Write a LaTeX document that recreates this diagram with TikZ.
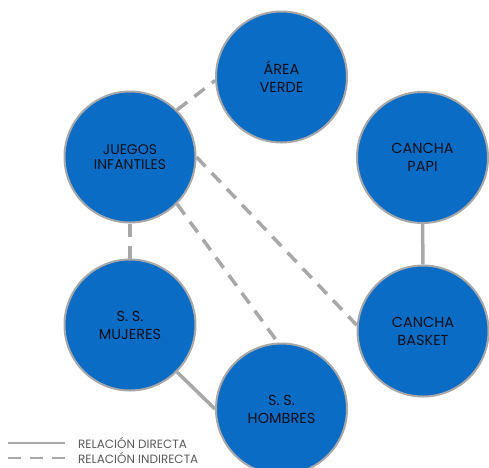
\documentclass[tikz,border=0pt]{standalone}
\usepackage{fontspec}
\setmainfont{Poppins}
\definecolor{cblue}{RGB}{10,108,196}
\definecolor{cgray}{RGB}{168,168,168}
\definecolor{ctext}{RGB}{15,15,25}
\definecolor{lgtext}{RGB}{90,90,90}
\begin{document}
\begin{tikzpicture}[x=1pt,y=-1pt,
  place/.style={circle, fill=cblue, draw=cgray, line width=2pt, minimum size=131pt,
    inner sep=0pt, align=center, font=\fontsize{14.5}{18}\selectfont, text=ctext},
  direct/.style={draw=cgray, line width=3.5pt},
  indirect/.style={draw=cgray, line width=3.5pt, dash pattern=on 13pt off 9pt},
  legtext/.style={anchor=west, inner sep=0pt, font=\fontsize{12}{14}\selectfont, text=lgtext}
]
\useasboundingbox (0,0) rectangle (489,467);
\coordinate (cJ) at (130,157);
\coordinate (cA) at (281.5,77);
\coordinate (cP) at (422.5,157.5);
\coordinate (cB) at (423,331);
\coordinate (cM) at (130,325);
\coordinate (cH) at (281.5,409);

\node[place] (area) at (cA) {ÁREA\\VERDE};
\node[place] (papi) at (cP) {CANCHA\\PAPI};
\node[place, font=\fontsize{14}{14.5}\selectfont] (juegos) at (cJ) {JUEGOS\\INFANTILES};
\node[place] (basket) at (cB) {CANCHA\\BASKET};
\node[place] (mujeres) at (cM) {S. S.\\MUJERES};
\node[place] (hombres) at (cH) {S. S.\\HOMBRES};

\draw[indirect] (juegos.45) -- (area.183);
\draw[indirect] (juegos.south) -- (mujeres.north);
\draw[indirect] (juegos.0) -- (basket.175);
\draw[indirect] (juegos.-45) -- (hombres.93);
\draw[direct] (papi.south) -- (basket.north);
\draw[direct] (mujeres.-45) -- (hombres.180);

\coordinate (l1a) at (8,443);
\coordinate (l1b) at (65,443);
\coordinate (l2a) at (8,458);
\coordinate (l2b) at (65,458);
\draw[direct, line width=2.5pt] (l1a) -- (l1b);
\draw[indirect, line width=2.5pt] (l2a) -- (l2b);
\node[legtext] (t1) at (78,443) {RELACIÓN DIRECTA};
\node[legtext] (t2) at (78,458) {RELACIÓN INDIRECTA};
\end{tikzpicture}
\end{document}
